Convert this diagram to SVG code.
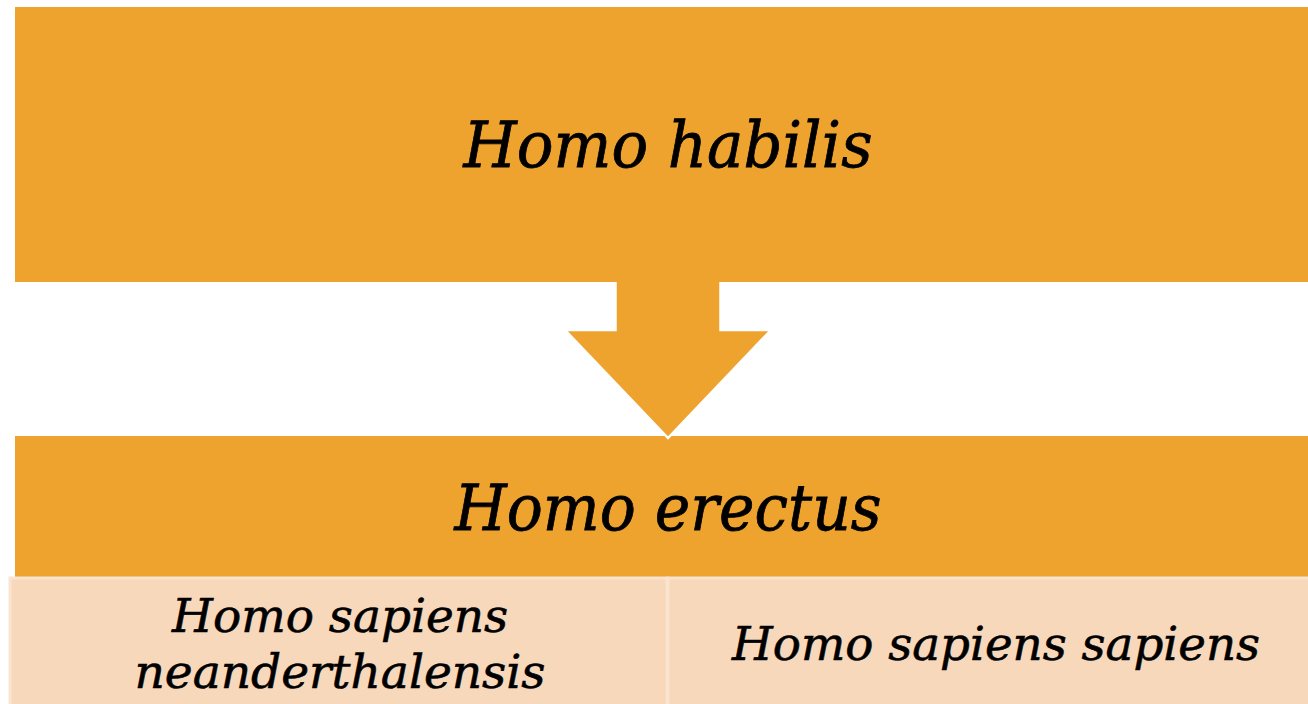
<svg xmlns="http://www.w3.org/2000/svg" width="1308" height="704" viewBox="0 0 1308 704">
<style>
.o{fill:#EFA32F}
.l{fill:#F8D8BB;stroke:#FAE4D0;stroke-width:3}
.t{font-family:"DejaVu Serif","Liberation Serif",serif;font-style:italic;fill:#000;stroke:#000;stroke-width:0.8;text-anchor:middle}
</style>
<rect width="1308" height="704" fill="#fff"/>
<g id="erectus">
<rect class="o" x="15" y="436" width="1293" height="141"/>
<text class="t" x="668" y="530" font-size="64" textLength="427" lengthAdjust="spacingAndGlyphs">Homo erectus</text>
</g>
<g id="connectors">
<path class="o" d="M615.5,270 L720.5,270 L720.5,330 L771,330 L668,438 L565,330 L615.5,330 Z" stroke="#fff" stroke-width="2.5" stroke-linejoin="miter"/>
</g>
<g id="habilis">
<rect class="o" x="15" y="7" width="1293" height="275"/>
<text class="t" x="668" y="167" font-size="64" textLength="409" lengthAdjust="spacingAndGlyphs">Homo habilis</text>
</g>
<g id="neanderthalensis">
<rect class="l" x="10" y="578" width="657" height="128"/>
<text class="t" font-size="47" style="stroke-width:0.6"><tspan x="340" y="632" textLength="336" lengthAdjust="spacingAndGlyphs">Homo sapiens</tspan><tspan x="340" y="688" textLength="411" lengthAdjust="spacingAndGlyphs">neanderthalensis</tspan></text>
</g>
<g id="sapiens">
<rect class="l" x="668" y="578" width="642" height="128"/>
<text class="t" x="996" y="660" font-size="47" style="stroke-width:0.6" textLength="528" lengthAdjust="spacingAndGlyphs">Homo sapiens sapiens</text>
</g>
</svg>
